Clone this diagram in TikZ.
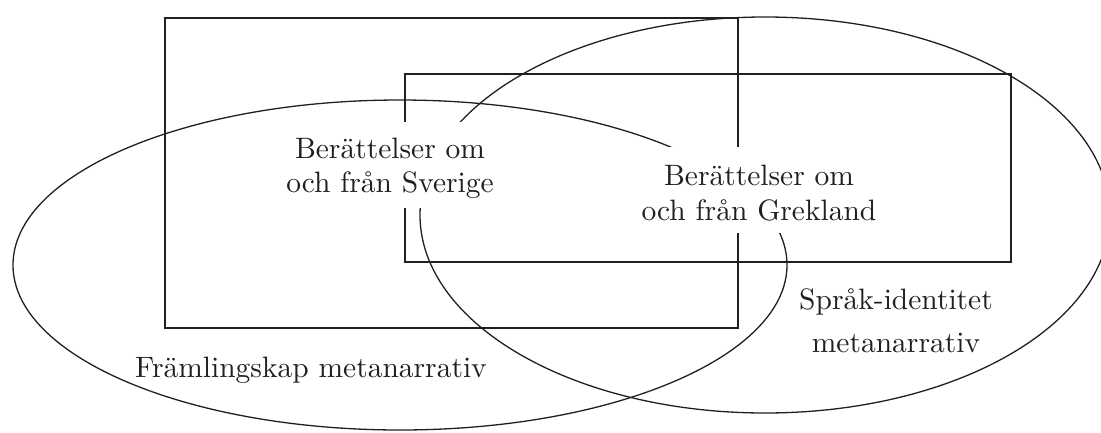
\documentclass[tikz,border=0pt]{standalone}
\usepackage{fontspec}
% the 10pt design of Latin Modern, used at display size for its sturdier strokes
\setmainfont{lmroman10-regular.otf}
\definecolor{ink}{HTML}{231F20}
\tikzset{
  outline/.style={draw=ink, line width=1.3pt},
  lbl/.style={text=ink, inner sep=0pt},
  masked/.style={lbl, fill=white, anchor=base, inner xsep=8pt, inner ysep=0pt},
}
\newcommand{\twolines}[3]{{\fontsize{29.5}{#1}\selectfont\begin{tabular}[t]{@{}c@{}}#2\\#3\end{tabular}}}
\begin{document}
\begin{tikzpicture}[x=1pt, y=-1pt]
  \useasboundingbox (0,0) rectangle (1101,432);
  \clip (0,0) rectangle (1101,432);

  % the two story frames
  \draw[outline] (165,18) rectangle (738,328);
  \draw[outline] (405,74) rectangle (1011,262);

  % the two metanarratives
  \draw[outline] (400,265) ellipse [x radius=387pt, y radius=165pt];
  \draw[outline] (765,215) ellipse [x radius=345pt, y radius=198pt];

  % labels; the story labels sit on white and break the lines behind them
  \node[masked, text height=36pt, text depth=50pt] (sverige) at (390,158)
    {\twolines{34}{Berättelser om}{och från Sverige}};
  \node[masked, text height=38pt, text depth=48pt] (grekland) at (759,185)
    {\twolines{35}{Berättelser om}{och från Grekland}};
  \node[lbl, anchor=base] (sprak) at (896,309)
    {\twolines{43}{Språk-identitet}{metanarrativ}};
  \node[lbl, anchor=base, font=\fontsize{29.5}{34}\selectfont] (framling) at (311,377)
    {Främlingskap metanarrativ};
\end{tikzpicture}
\end{document}
